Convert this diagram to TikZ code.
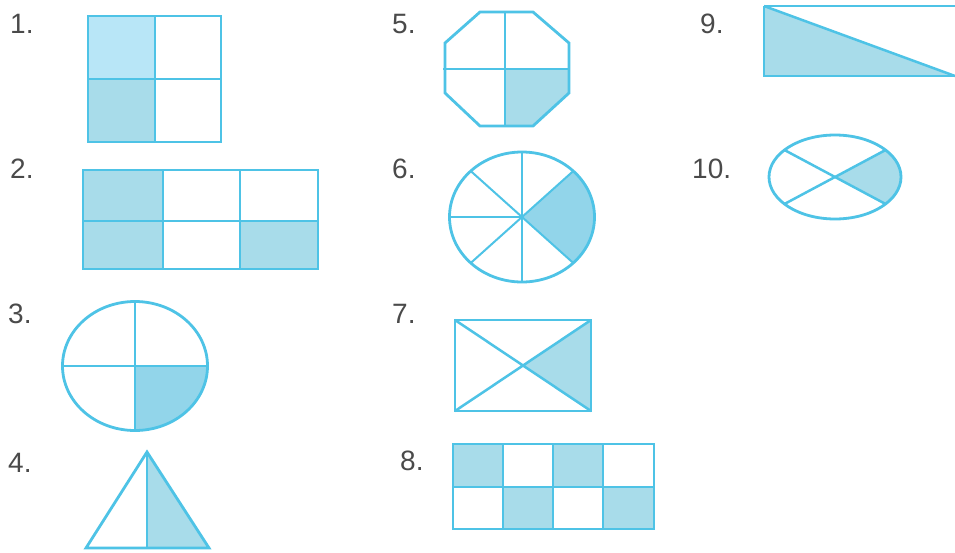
\documentclass[tikz,border=0pt]{standalone}
\usepackage{fontspec}
\setmainfont{Liberation Sans}
\definecolor{ln}{HTML}{4EC3E6}
\definecolor{fl}{HTML}{A8DCEA}
\definecolor{flL}{HTML}{B8E6F7}
\definecolor{flD}{HTML}{92D5EA}
\definecolor{tx}{HTML}{4A4A4A}
\tikzset{
  lbl/.style={anchor=base west,inner sep=0pt,text=tx,font=\fontsize{28}{30}\selectfont},
  outl/.style={draw=ln,line width=2.8pt,line join=miter},
  inl/.style={draw=ln,line width=2.5pt},
  thinl/.style={draw=ln,line width=2pt},
}
\begin{document}
\begin{tikzpicture}[x=1pt,y=-1pt]
\path[use as bounding box] (0,0) rectangle (955,552);
\clip (0,0) rectangle (955,552);
\fill[white] (0,0) rectangle (955,552);
% labels
\node[lbl] (l1) at (10,33) {1.};
\node[lbl] (l2) at (10,178) {2.};
\node[lbl] (l3) at (8,323) {3.};
\node[lbl] (l4) at (8,472) {4.};
\node[lbl] (l5) at (392,33) {5.};
\node[lbl] (l6) at (392,178) {6.};
\node[lbl] (l7) at (392,323) {7.};
\node[lbl] (l8) at (400,470) {8.};
\node[lbl] (l9) at (700,33) {9.};
\node[lbl] (l10) at (692,178) {10.};
% 1: square
\fill[flL] (88,16) rectangle (155,79);
\fill[fl] (88,79) rectangle (155,142);
\draw[inl] (155,16) -- (155,142) (88,79) -- (221,79);
\draw[outl] (88,16) rectangle (221,142);
% 2: rectangle 2x3
\fill[fl] (83,170) rectangle (163,269);
\fill[fl] (240,221) rectangle (318,269);
\draw[inl] (163,170) -- (163,269) (240,170) -- (240,269) (83,221) -- (318,221);
\draw[outl] (83,170) rectangle (318,269);
% 3: ellipse quarters
\fill[flD] (135,366) -- (207.5,366) arc[start angle=0,end angle=90,x radius=72.5,y radius=64.5] -- cycle;
\draw[inl] (135,301.5) -- (135,430.5) (62.5,366) -- (207.5,366);
\draw[outl] (135,366) ellipse[x radius=72.5,y radius=64.5];
% 4: triangle
\fill[fl] (147,452) -- (209,548) -- (147,548) -- cycle;
\draw[inl] (147,452) -- (147,548);
\draw[outl] (147,452) -- (209,548) -- (86,548) -- cycle;
% 5: octagon
\fill[fl] (505,69) -- (569,69) -- (569,93) -- (533,126) -- (505,126) -- cycle;
\draw[inl] (505,12) -- (505,126) (443,69) -- (569,69);
\draw[outl] (480,12) -- (533,12) -- (569,43) -- (569,93) -- (533,126) -- (480,126) -- (445,93) -- (445,43) -- cycle;
% 6: circle with 7 parts
\fill[flD] (522,217) -- ({522+72.5*cos(-45)},{217+65*sin(-45)}) arc[start angle=-45,end angle=45,x radius=72.5,y radius=65] -- cycle;
\draw[thinl] (522,152) -- (522,282) (449.5,217) -- (522,217);
\foreach \a in {45,135,225,315}{
  \draw[thinl] (522,217) -- ({522+72.5*cos(\a)},{217+65*sin(\a)});
}
\draw[inl] (522,152) -- (522,282);
\draw[outl] (522,217) ellipse[x radius=72.5,y radius=65];
% 7: rectangle with diagonals
\fill[fl] (523,365.5) -- (591,320) -- (591,411) -- cycle;
\draw[inl] (455,320) -- (591,411) (455,411) -- (591,320);
\draw[outl] (455,320) rectangle (591,411);
% 8: checkerboard 2x4
\fill[fl] (453,444) rectangle (503,487);
\fill[fl] (553,444) rectangle (603,487);
\fill[fl] (503,487) rectangle (553,529);
\fill[fl] (603,487) rectangle (654,529);
\draw[inl] (503,444) -- (503,529) (553,444) -- (553,529) (603,444) -- (603,529) (453,487) -- (654,487);
\draw[outl] (453,444) rectangle (654,529);
% 9: rectangle cut by diagonal
\fill[fl] (764,6) -- (955,76) -- (764,76) -- cycle;
\draw[inl] (764,6) -- (955,76);
\draw[outl] (764,6) -- (960,6) (960,76) -- (764,76) -- (764,6);
% 10: ellipse with X
\fill[fl] (835,177) -- ({835+66*cos(-40)},{177+42*sin(-40)}) arc[start angle=-40,end angle=40,x radius=66,y radius=42] -- cycle;
\draw[inl] ({835+66*cos(40)},{177+42*sin(40)}) -- ({835+66*cos(220)},{177+42*sin(220)})
           ({835+66*cos(-40)},{177+42*sin(-40)}) -- ({835+66*cos(140)},{177+42*sin(140)});
\draw[outl] (835,177) ellipse[x radius=66,y radius=42];
\end{tikzpicture}
\end{document}
